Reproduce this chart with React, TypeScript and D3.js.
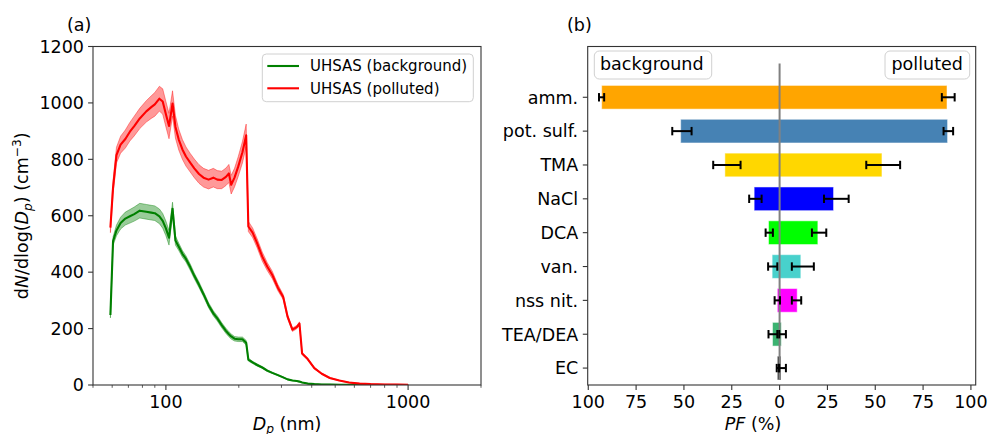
import React from "react";
import * as d3 from "d3";

// ---------- Panel (a) data ----------
const DIAM = [59, 60.5, 62.5, 65, 68, 71, 74, 78, 83, 87, 90, 94, 97, 100, 103, 106.5, 109.5, 113, 117, 121, 126, 131, 137, 143, 150, 157, 163, 170, 177, 182, 186, 192, 199, 207, 214.5, 219, 228, 238, 250, 262, 275, 290, 305, 318, 333, 347, 356, 365, 385, 410, 440, 475, 520, 570, 630, 700, 800, 900, 1000];
const PL_MEAN = [558, 700, 815, 852, 872, 898, 918, 945, 970, 985, 995, 1015, 1005, 960, 918, 998, 915, 870, 835, 810, 788, 768, 748, 735, 728, 735, 728, 727, 738, 750, 710, 735, 775, 825, 885, 562, 540, 503, 455, 420, 390, 345, 312, 242, 196, 205, 218, 112, 92, 60, 40, 25, 16, 9, 5, 3, 2, 1.5, 1];
const PL_ERR = [18, 24, 28, 30, 32, 33, 35, 36, 38, 40, 42, 44, 45, 45, 45, 45, 40, 37, 35, 34, 33, 33, 33, 33, 33, 33, 32, 31, 31, 32, 33, 33, 35, 38, 40, 18, 17, 16, 16, 14, 13, 11, 9, 7, 6, 6, 6, 4, 3, 3, 2, 2, 1, 1, 1, 1, 1, 1, 1];
const BG_MEAN = [248, 510, 548, 574, 590, 598, 606, 618, 614, 611, 609, 598, 582, 555, 522, 625, 512, 490, 465, 447, 418, 387, 355, 322, 283, 254, 236, 212, 192, 180, 172, 164, 162, 162, 150, 90, 80, 71, 62, 51, 43, 35, 27, 20, 16, 14, 12, 9, 5, 3, 2, 1.5, 1, 0.5, 0.3, 0.2, 0.1, 0.1, 0.1];
const BG_ERR = [10, 15, 19, 21, 23, 24, 25, 26, 26, 26, 26, 26, 26, 26, 26, 23, 16, 13, 12, 11, 11, 10, 10, 9, 9, 9, 9, 9, 9, 9, 9, 8, 8, 8, 8, 5, 4, 4, 3, 3, 2, 2, 2, 1, 1, 1, 1, 1, 1, 1, 1, 1, 1, 1, 1, 1, 1, 1, 1];
const LEFT_Y_TICKS = [0, 200, 400, 600, 800, 1000, 1200];
const LEFT_X_MAJOR = [100, 1000];
const LEFT_X_MINOR = [50, 60, 70, 80, 90, 200, 300, 400, 500, 600, 700, 800, 900, 2000];
const LEGEND_LABELS = ["UHSAS (background)", "UHSAS (polluted)"];

// ---------- Panel (b) data ----------
const CATEGORIES = ["amm.", "pot. sulf.", "TMA", "NaCl", "DCA", "van.", "nss nit.", "TEA/DEA", "EC"];
const BAR_COLORS = ["#ffa500", "#4682b4", "#ffd700", "#0000ff", "#00ff00", "#48d1cc", "#ff00ff", "#3cb371", "#3a3a3a"];
const PF_BG = [93, 51.7, 28.6, 13.3, 5.8, 3.9, 1.2, 3.7, 1.2];
const PF_BG_ERR_LO = [91.7, 46, 20.4, 9.4, 3.5, 1.2, -0.2, 1.2, 0.2];
const PF_BG_ERR_HI = [94.4, 56.1, 34.7, 15.9, 7.3, 6, 2.6, 5.8, 1.5];
const PF_PL = [87.5, 87.8, 53.5, 28.2, 20, 11.1, 9.2, 0.9, 0.7];
const PF_PL_ERR_LO = [84.8, 85.7, 45.3, 23.2, 16.9, 6.4, 6.4, -0.2, -0.3];
const PF_PL_ERR_HI = [91.5, 90.7, 63, 36.1, 24.4, 17.9, 11.3, 3.3, 3.3];
const PF_TICKS = [-100, -75, -50, -25, 0, 25, 50, 75, 100];

const FONT = "DejaVu Sans";
const FS = 17.5;
const AX = "#333";

export default function App() {
  const top = 46.5, bottom = 385;
  const lx0 = 93, lx1 = 481;
  const rx0 = 587.7, rx1 = 975.7;

  const xL = d3.scaleLog().domain([50, 2000]).range([lx0, lx1]);
  const yL = d3.scaleLinear().domain([0, 1200]).range([bottom, top]);
  const xR = d3.scaleLinear().domain([-100.3, 102.5]).range([rx0, rx1]);
  const yR = d3.scaleLinear().domain([-0.5, 9.5]).range([bottom, top]);

  type P = { d: number; v: number; e: number };
  const bg: P[] = DIAM.map((d, i) => ({ d, v: BG_MEAN[i], e: BG_ERR[i] }));
  const pl: P[] = DIAM.map((d, i) => ({ d, v: PL_MEAN[i], e: PL_ERR[i] }));
  const area = d3.area<P>().x(p => xL(p.d)).y0(p => yL(Math.max(0, p.v - p.e))).y1(p => yL(p.v + p.e));
  const line = d3.line<P>().x(p => xL(p.d)).y(p => yL(p.v));

  const barH = yR(0) - yR(0.7);
  const n = CATEGORIES.length;
  const idx = (i: number) => n - 1 - i;
  const capH = 4.2;

  return (
    <svg width={991} height={434} style={{ position: "absolute", left: 0, top: 0, background: "#fff" }} fontFamily={FONT}>
      <defs>
        <clipPath id="clipL"><rect x={lx0} y={top} width={lx1 - lx0} height={bottom - top} /></clipPath>
      </defs>
      {/* ---------- Panel (a) ---------- */}
      <text x={67} y={31} fontSize={FS}>(a)</text>
      <g clipPath="url(#clipL)">
        <path d={area(bg) || ""} fill="#008000" fillOpacity={0.4} stroke="#008000" strokeOpacity={0.4} strokeWidth={1} />
        <path d={area(pl) || ""} fill="#ff0000" fillOpacity={0.4} stroke="#ff0000" strokeOpacity={0.4} strokeWidth={1} />
        <path d={line(bg) || ""} fill="none" stroke="#008000" strokeWidth={2.1} strokeLinejoin="round" />
        <path d={line(pl) || ""} fill="none" stroke="#ff0000" strokeWidth={2.1} strokeLinejoin="round" />
      </g>
      <rect x={lx0} y={top} width={lx1 - lx0} height={bottom - top} fill="none" stroke={AX} strokeWidth={1.1} />
      {LEFT_Y_TICKS.map(t => (
        <g key={"ly" + t}>
          <line x1={lx0 - 4.9} x2={lx0} y1={yL(t)} y2={yL(t)} stroke={AX} strokeWidth={1.1} />
          <text x={lx0 - 9} y={yL(t)} dy="0.36em" textAnchor="end" fontSize={FS}>{t}</text>
        </g>
      ))}
      {LEFT_X_MAJOR.map(t => (
        <g key={"lx" + t}>
          <line x1={xL(t)} x2={xL(t)} y1={bottom} y2={bottom + 4.9} stroke={AX} strokeWidth={1.1} />
          <text x={xL(t)} y={408} textAnchor="middle" fontSize={FS}>{t}</text>
        </g>
      ))}
      {LEFT_X_MINOR.map(t => (
        <line key={"lm" + t} x1={xL(t)} x2={xL(t)} y1={bottom} y2={bottom + 2.8} stroke={AX} strokeWidth={0.8} />
      ))}
      <text x={(lx0 + lx1) / 2} y={429.5} textAnchor="middle" fontSize={FS}>
        <tspan fontStyle="italic">D</tspan>
        <tspan fontStyle="italic" fontSize={FS * 0.7} dy={3.5}>p</tspan>
        <tspan dy={-3.5}> (nm)</tspan>
      </text>
      <text transform={`translate(28, ${(top + bottom) / 2}) rotate(-90)`} textAnchor="middle" fontSize={FS}>
        <tspan>d</tspan>
        <tspan fontStyle="italic">N</tspan>
        <tspan>/dlog(</tspan>
        <tspan fontStyle="italic">D</tspan>
        <tspan fontStyle="italic" fontSize={FS * 0.7} dy={4}>p</tspan>
        <tspan dy={-4}>) (cm</tspan>
        <tspan fontSize={FS * 0.7} dy={-7}>−3</tspan>
        <tspan dy={7}>)</tspan>
      </text>
      {/* legend */}
      <rect x={262.3} y={54} width={211} height={47.7} rx={4} fill="#fff" fillOpacity={0.8} stroke="#d0d0d0" strokeWidth={1} />
      {LEGEND_LABELS.map((lab, i) => (
        <g key={lab}>
          <line x1={267.3} x2={299} y1={66 + i * 22.3} y2={66 + i * 22.3} stroke={i === 0 ? "#008000" : "#ff0000"} strokeWidth={2.1} />
          <text x={310} y={66 + i * 22.3} dy="0.36em" fontSize={15}>{lab}</text>
        </g>
      ))}

      {/* ---------- Panel (b) ---------- */}
      <text x={567} y={31} fontSize={FS}>(b)</text>
      {CATEGORIES.map((c, i) => (
        <g key={"bar" + c}>
          <rect x={xR(-PF_BG[i])} y={yR(idx(i)) - barH / 2} width={xR(0) - xR(-PF_BG[i])} height={barH} fill={BAR_COLORS[i]} stroke="#fff" strokeOpacity={0.5} strokeWidth={1} />
          <rect x={xR(0)} y={yR(idx(i)) - barH / 2} width={xR(PF_PL[i]) - xR(0)} height={barH} fill={BAR_COLORS[i]} stroke="#fff" strokeOpacity={0.5} strokeWidth={1} />
        </g>
      ))}
      <line x1={xR(0)} x2={xR(0)} y1={yR(9)} y2={yR(-0.35)} stroke="#808080" strokeWidth={2} />
      {CATEGORIES.map((c, i) => {
        const yy = yR(idx(i));
        const segs = [
          [-PF_BG_ERR_HI[i], -PF_BG_ERR_LO[i]],
          [PF_PL_ERR_LO[i], PF_PL_ERR_HI[i]],
        ];
        return (
          <g key={"err" + c}>
            {segs.map(([a, b], k) => (
              <g key={k}>
                <line x1={xR(a)} x2={xR(b)} y1={yy} y2={yy} stroke="#000" strokeWidth={2} />
                <line x1={xR(a)} x2={xR(a)} y1={yy - capH} y2={yy + capH} stroke="#000" strokeWidth={2} />
                <line x1={xR(b)} x2={xR(b)} y1={yy - capH} y2={yy + capH} stroke="#000" strokeWidth={2} />
              </g>
            ))}
          </g>
        );
      })}
      <rect x={rx0} y={top} width={rx1 - rx0} height={bottom - top} fill="none" stroke={AX} strokeWidth={1.1} />
      {CATEGORIES.map((c, i) => (
        <g key={"yt" + c}>
          <line x1={rx0 - 4.9} x2={rx0} y1={yR(idx(i))} y2={yR(idx(i))} stroke={AX} strokeWidth={1.1} />
          <text x={rx0 - 9.5} y={yR(idx(i))} dy="0.36em" textAnchor="end" fontSize={FS}>{c}</text>
        </g>
      ))}
      {PF_TICKS.map(t => (
        <g key={"xt" + t}>
          <line x1={xR(t)} x2={xR(t)} y1={bottom} y2={bottom + 4.9} stroke={AX} strokeWidth={1.1} />
          <text x={xR(t)} y={408} textAnchor="middle" fontSize={FS}>{Math.abs(t)}</text>
        </g>
      ))}
      <text x={753} y={429.5} textAnchor="middle" fontSize={FS}>
        <tspan fontStyle="italic">PF</tspan>
        <tspan> (%)</tspan>
      </text>
      {/* annotation boxes */}
      <rect x={594.3} y={51} width={117.4} height={28} rx={5} fill="#fff" stroke="#d0d0d0" strokeWidth={1} />
      <text x={600} y={69.5} fontSize={FS}>background</text>
      <rect x={885} y={51} width={84.7} height={28} rx={5} fill="#fff" stroke="#d0d0d0" strokeWidth={1} />
      <text x={891.5} y={69.5} fontSize={FS}>polluted</text>
    </svg>
  );
}
